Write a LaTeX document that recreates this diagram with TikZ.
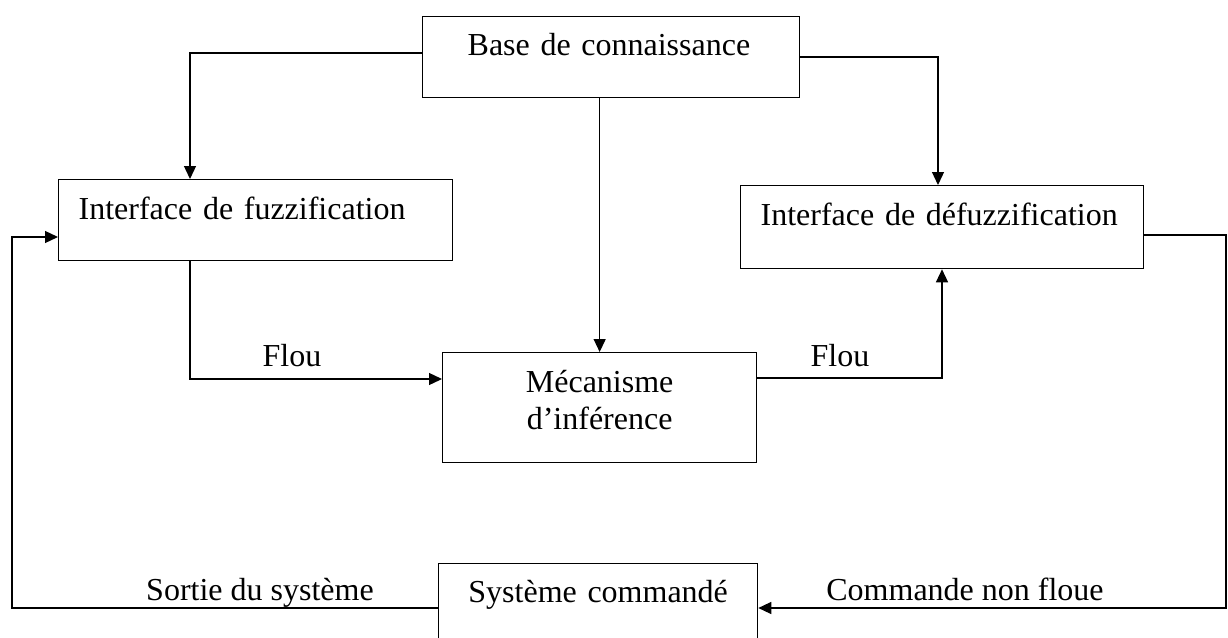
\documentclass[tikz,border=0pt]{standalone}
\usepackage{fontspec}
\setmainfont{Liberation Serif}
\usetikzlibrary{arrows.meta}
\begin{document}
\begin{tikzpicture}[x=1pt,y=-1pt,
  box/.style={draw, line width=1.3pt, rectangle, anchor=north west, inner ysep=0pt,
    font=\fontsize{32}{37}\selectfont},
  lbl/.style={anchor=base, inner sep=0pt, font=\fontsize{32}{37}\selectfont},
  conn/.style={line width=1.3pt},
  arr/.style={line width=1.3pt, -{Triangle[length=13pt,width=12pt]}}
]
\useasboundingbox (0,0) rectangle (1228,637);

% boxes
\node[box, inner xsep=45pt, text width=287pt, align=left, text height=39pt, text depth=42pt]
  (base) at (422,16) {Base de connaissance};
\node[box, inner xsep=20pt, text width=354pt, align=left, text height=40pt, text depth=41pt]
  (fz) at (58,179) {Interface de fuzzification};
\node[box, inner xsep=20pt, text width=363pt, align=left, text height=40pt, text depth=43pt]
  (dfz) at (740,185) {Interface de défuzzification};
\node[box, inner xsep=0pt, text width=314pt, align=center, text height=40pt, text depth=70pt]
  (mec) at (442,352) {Mécanisme\\d’inférence};
\node[box, inner xsep=0pt, text width=319pt, align=center, text height=39pt, text depth=61pt]
  (sys) at (438,563) {Système commandé};

% corner coordinates
\coordinate (lc) at (12,237);
\coordinate (rc) at (1226,608);

% connectors
\draw[arr] ([yshift=-37pt]base.north west) -| ([xshift=132pt]fz.north west);
\draw[arr] ([yshift=-41pt]base.north east) -| ([xshift=198pt]dfz.north west);
\draw[arr] (mec.north |- base.south) -- (mec.north);
\draw[arr] ([xshift=132pt]fz.south west) |- ([yshift=-27pt]mec.north west);
\draw[arr] ([yshift=-26pt]mec.north east) -| ([xshift=202pt]dfz.south west);
\draw[arr] ([yshift=-50pt]dfz.north east) -| (rc) -- ([yshift=-45pt]sys.north east);
\draw[arr] ([yshift=-45pt]sys.north west) -| (lc) -- ([yshift=-58pt]fz.north west);

% labels
\node[lbl] (flou1) at (292,366) {Flou};
\node[lbl] (flou2) at (840,366) {Flou};
\node[lbl] (sortie) at (260,600) {Sortie du système};
\node[lbl] (cmd) at (965,600) {Commande non floue};
\end{tikzpicture}
\end{document}
